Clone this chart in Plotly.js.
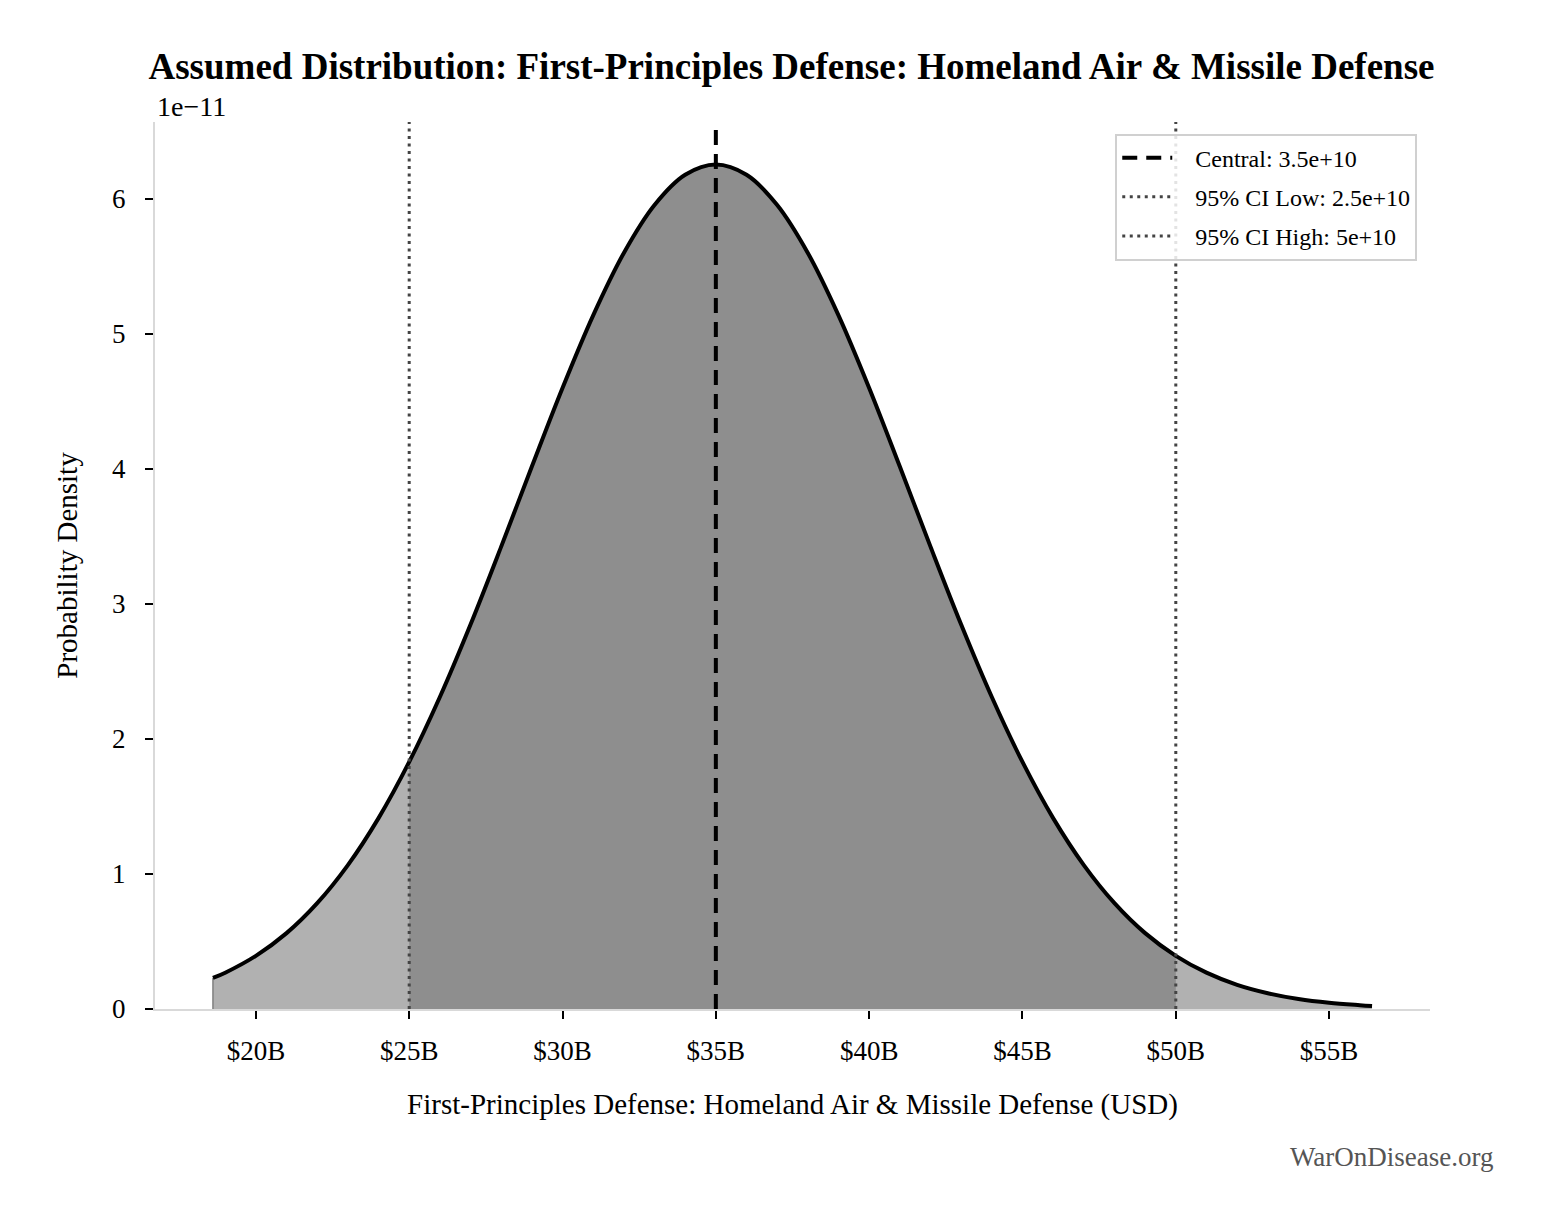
<!DOCTYPE html>
<html>
<head>
<meta charset="utf-8">
<script src="https://cdn.plot.ly/plotly-3.0.1.min.js"></script>
<style>
  html, body { margin: 0; padding: 0; background: #fff; }
  #chart { width: 1555px; height: 1230px; }
</style>
</head>
<body>
<div id="chart"></div>
<script>
// values: x in billions USD, density in units of 1e-11
const xB = [18.6, 19, 20, 21, 22, 23, 24, 25, 26, 27, 28, 29, 30, 31, 32, 33, 34, 35,
            36, 37, 38, 39, 40, 41, 42, 43, 44, 45, 46, 47, 48, 49, 50, 51, 52, 53, 54, 55, 56, 56.4];
const densityE11 = [0.230, 0.269, 0.394, 0.562, 0.784, 1.066, 1.414, 1.830, 2.311, 2.848, 3.425, 4.018, 4.600, 5.138, 5.600, 5.955, 6.179, 6.255,
                    6.179, 5.955, 5.600, 5.138, 4.600, 4.018, 3.425, 2.848, 2.311, 1.830, 1.414, 1.066, 0.784, 0.562, 0.394, 0.269, 0.179, 0.117, 0.074, 0.046, 0.028, 0.022];

const central = 35, ciLow = 25, ciHigh = 50;
const tickB = [20, 25, 30, 35, 40, 45, 50, 55];
const tickLabels = tickB.map(v => "$" + v + "B");

const yTop = 6.57;
const serif = "Liberation Serif, Times New Roman, serif";
const pad = "\u00a0\u00a0\u00a0";

// shaded 95% interval
const inX = [], inY = [];
xB.forEach((v, i) => {
    if (v >= ciLow && v <= ciHigh) { inX.push(v); inY.push(densityE11[i]); }
});

const traces = [
    { x: xB, y: densityE11, type: "scatter", mode: "lines", fill: "tozeroy",
      fillcolor: "#b1b1b1", line: { width: 0, shape: "spline" }, showlegend: false, hoverinfo: "skip" },
    { x: inX, y: inY, type: "scatter", mode: "lines", fill: "tozeroy",
      fillcolor: "#8e8e8e", line: { width: 0, shape: "spline" }, showlegend: false, hoverinfo: "skip" },
    { x: [xB[0], xB[0]], y: [0, densityE11[0]], type: "scatter", mode: "lines",
      line: { color: "#808080", width: 1.5 }, showlegend: false, hoverinfo: "skip" },
    { x: xB, y: densityE11, type: "scatter", mode: "lines",
      line: { color: "#000", width: 4, shape: "spline" }, showlegend: false },
    { x: [central, central], y: [0, yTop], type: "scatter", mode: "lines", legendgroup: "a",
      name: pad + "Central: 3.5e+10", line: { color: "#000", width: 4, dash: "15px,9px" } },
    { x: [ciLow, ciLow], y: [0, yTop], type: "scatter", mode: "lines", legendgroup: "b",
      name: pad + "95% CI Low: 2.5e+10", line: { color: "#444", width: 3, dash: "3px,4.5px" } },
    { x: [ciHigh, ciHigh], y: [0, yTop], type: "scatter", mode: "lines", legendgroup: "c",
      name: pad + "95% CI High: 5e+10", line: { color: "#444", width: 3, dash: "3px,4.5px" } }
];

const layout = {
    width: 1555, height: 1230,
    paper_bgcolor: "#fff", plot_bgcolor: "#fff",
    font: { family: serif, color: "#000", size: 27 },
    margin: { l: 155, r: 125, t: 122, b: 221 },
    title: {
        text: "<b>Assumed Distribution: First-Principles Defense: Homeland Air & Missile Defense</b>",
        font: { size: 37, family: serif, color: "#000" },
        x: 0.509, xanchor: "center", y: 0.946, yanchor: "middle"
    },
    xaxis: {
        range: [16.71, 58.29], tickvals: tickB, ticktext: tickLabels,
        showgrid: false, zeroline: false, showline: true, linecolor: "#d9d9d9", linewidth: 2,
        ticks: "outside", ticklen: 8, tickwidth: 2, tickcolor: "#000",
        tickfont: { size: 27 }, ticklabelstandoff: 9,
        title: { text: "First-Principles Defense: Homeland Air & Missile Defense (USD)",
                 font: { size: 29 }, standoff: 28 }
    },
    yaxis: {
        range: [0, yTop], tickvals: [0, 1, 2, 3, 4, 5, 6],
        showgrid: false, zeroline: false, showline: true, linecolor: "#d9d9d9", linewidth: 2,
        ticks: "outside", ticklen: 8, tickwidth: 2, tickcolor: "#000",
        tickfont: { size: 27 }, ticklabelstandoff: 14,
        title: { text: "Probability Density", font: { size: 29 }, standoff: 26 }
    },
    legend: {
        x: 0.99, xanchor: "right", y: 0.987, yanchor: "top",
        bgcolor: "rgba(255,255,255,0.85)", bordercolor: "#d0d0d0", borderwidth: 2,
        font: { size: 24 }, tracegroupgap: 5, itemwidth: 50
    },
    annotations: [
        { text: "1e\u221211", xref: "paper", yref: "paper", x: 0, y: 1, xanchor: "left", yanchor: "bottom",
          yshift: -2, showarrow: false, font: { size: 28 } },
        { text: "WarOnDisease.org", xref: "paper", yref: "paper", x: 1.052, y: -0.167,
          xanchor: "right", yanchor: "middle", showarrow: false, font: { size: 27, color: "#555" } }
    ]
};

Plotly.newPlot("chart", traces, layout, { displayModeBar: false, responsive: false });
</script>
</body>
</html>
